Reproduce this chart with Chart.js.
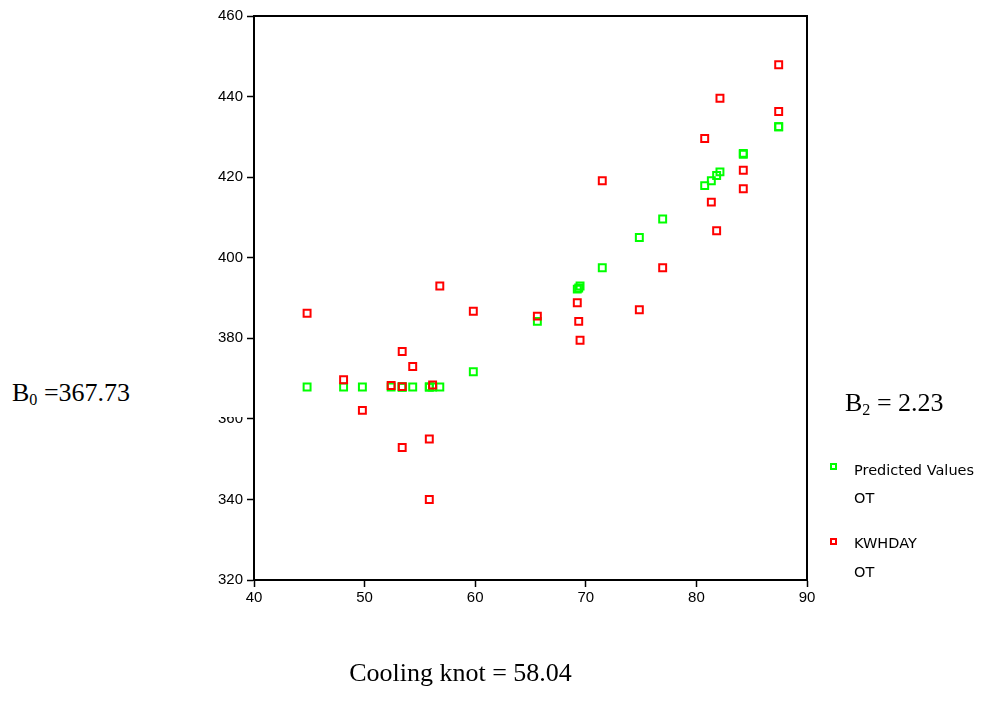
<!DOCTYPE html>
<html>
<head>
<meta charset="utf-8">
<script src="https://cdn.jsdelivr.net/npm/chart.js@4.4.1/dist/chart.umd.min.js"></script>
<style>
  body { margin: 0; background: #fff; }
  #wrap { position: relative; width: 988px; height: 708px; overflow: hidden; }
  canvas { position: absolute; left: 0; top: 0; }
  .note { position: absolute; font-family: 'Liberation Serif', 'Times New Roman', serif; font-size: 26px; line-height: 26px; color: #000; white-space: nowrap; }
  .note sub { font-size: 0.62em; line-height: 0; vertical-align: -0.25em; }
  .leg { position: absolute; font-family: 'DejaVu Sans', Tahoma, sans-serif; font-size: 14.5px; line-height: 16px; color: #000; white-space: nowrap; }
  .sw { position: absolute; width: 7px; height: 7px; box-sizing: border-box; border: 2px solid; }
</style>
</head>
<body>
<div id="wrap">
  <canvas id="chart" width="988" height="708"></canvas>
  <div class="note" style="left:0; top:372px; width:246px; height:45px; padding:8px 0 0 12px; box-sizing:border-box; background:#fff;">B<sub>0</sub> =367.73</div>
  <div class="note" style="left:845px; top:390px;">B<sub>2</sub> = 2.23</div>
  <div class="note" style="left:0; width:921px; text-align:center; top:660px;">Cooling knot = 58.04</div>
  <div class="sw" style="left:830px; top:463px; border-color:#00ff00;"></div>
  <div class="leg" style="left:854px; top:462px;">Predicted Values</div>
  <div class="leg" style="left:854px; top:490px;">OT</div>
  <div class="sw" style="left:830px; top:538px; border-color:#ff0000;"></div>
  <div class="leg" style="left:854px; top:535px;">KWHDAY</div>
  <div class="leg" style="left:854px; top:564px;">OT</div>
</div>
<script>
// outdoor temperature (x) shared by both series
const otValues = [44.8, 48.1, 49.8, 52.4, 53.4, 53.4, 53.4, 54.35, 55.85, 55.85, 56.15, 56.8,
  59.83, 65.62, 69.23, 69.36, 69.48, 71.49, 74.84, 76.95, 80.75, 81.35, 81.83, 82.13,
  84.24, 84.24, 87.44, 87.44];
const kwhday = [386.2, 369.7, 362.1, 368.3, 376.7, 368.0, 352.9, 373.0, 355.0, 340.0, 368.4, 393.0,
  386.7, 385.5, 388.8, 384.2, 379.5, 419.1, 387.1, 397.5, 429.6, 413.8, 406.7, 439.6,
  421.7, 417.1, 447.9, 436.3];
const predicted = [367.9, 367.9, 367.9, 367.9, 367.9, 367.9, 367.9, 367.9, 367.9, 367.9, 367.9, 367.9,
  371.7, 384.2, 392.2, 392.5, 393.0, 397.5, 405.0, 409.6, 417.9, 419.1, 420.4, 421.3,
  425.7, 425.9, 432.5, 432.5];
const xTicks = [40, 50, 60, 70, 80, 90];
const yTicks = [320, 340, 360, 380, 400, 420, 440, 460];

const tickFont = { family: "'Liberation Sans', Arial, sans-serif", size: 15 };

// draw the full frame round the plot area
const frame = {
  id: 'frame',
  afterDraw(chart) {
    const a = chart.chartArea;
    const ctx = chart.ctx;
    ctx.save();
    ctx.strokeStyle = '#000';
    ctx.lineWidth = 2;
    ctx.strokeRect(a.left, a.top, a.right - a.left, a.bottom - a.top);
    ctx.restore();
  }
};

new Chart(document.getElementById('chart'), {
  type: 'scatter',
  data: {
    datasets: [
      {
        label: 'KWHDAY OT',
        data: otValues.map((x, i) => ({ x: x, y: kwhday[i] })),
        pointStyle: 'rect',
        pointRadius: 4.9,
        borderWidth: 2,
        borderColor: '#ff0000',
        backgroundColor: 'rgba(0,0,0,0)',
        order: 0
      },
      {
        label: 'Predicted Values OT',
        data: otValues.map((x, i) => ({ x: x, y: predicted[i] })),
        pointStyle: 'rect',
        pointRadius: 4.9,
        borderWidth: 2,
        borderColor: '#00ff00',
        backgroundColor: 'rgba(0,0,0,0)',
        order: 1
      }
    ]
  },
  options: {
    responsive: false,
    animation: false,
    layout: { padding: { left: 200, right: 181, top: 16, bottom: 98 } },
    plugins: { legend: { display: false }, tooltip: { enabled: false } },
    scales: {
      x: {
        type: 'linear',
        min: 40, max: 90,
        afterBuildTicks: s => { s.ticks = xTicks.map(v => ({ value: v })); },
        afterFit: s => { s.height = 30; },
        ticks: { color: '#000', font: tickFont, padding: 2 },
        grid: { drawOnChartArea: false, drawTicks: true, tickLength: 7, tickColor: '#000', tickWidth: 1.5 },
        border: { color: '#000', width: 2 }
      },
      y: {
        type: 'linear',
        min: 320, max: 460,
        afterBuildTicks: s => { s.ticks = yTicks.map(v => ({ value: v })); },
        afterFit: s => { s.width = 54; },
        ticks: { color: '#000', font: tickFont, padding: 4 },
        grid: { drawOnChartArea: false, drawTicks: true, tickLength: 7, tickColor: '#000', tickWidth: 1.5 },
        border: { color: '#000', width: 2 }
      }
    }
  },
  plugins: [frame]
});
</script>
</body>
</html>
